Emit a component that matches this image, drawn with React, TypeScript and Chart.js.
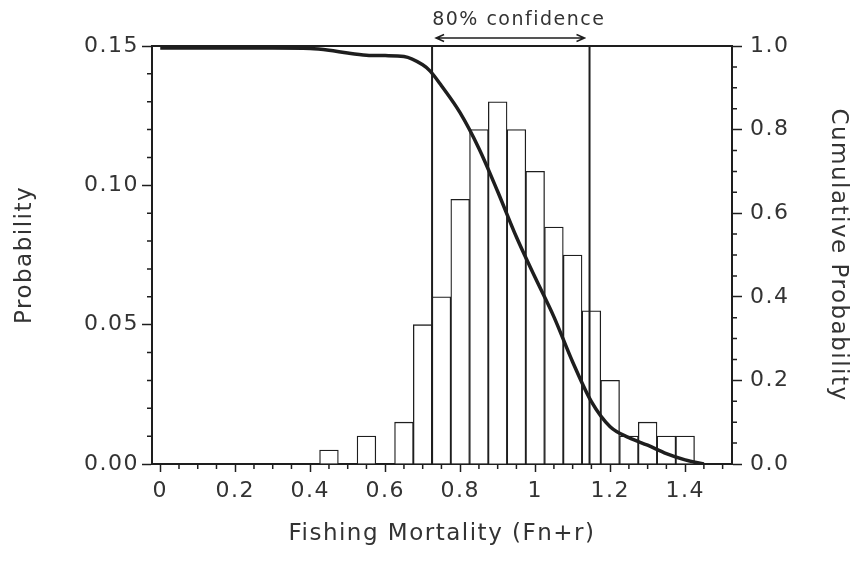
import React, { useEffect, useRef } from 'react';
import { Chart, registerables } from 'chart.js';

Chart.register(...registerables);

// ---- data ----
const binCenters = [0.45, 0.55, 0.65, 0.70, 0.75, 0.80, 0.85, 0.90, 0.95, 1.00, 1.05, 1.10, 1.15, 1.20, 1.25, 1.30, 1.35, 1.40];
const binProbabilities = [0.005, 0.010, 0.015, 0.050, 0.060, 0.095, 0.120, 0.130, 0.120, 0.105, 0.085, 0.075, 0.055, 0.030, 0.010, 0.015, 0.010, 0.010];

const cumulativeX = [0, 0.1, 0.2, 0.3, 0.4, 0.45, 0.5, 0.55, 0.6, 0.65, 0.7, 0.72, 0.75, 0.8, 0.85, 0.9, 0.95, 1.0, 1.05, 1.1, 1.15, 1.2, 1.25, 1.3, 1.35, 1.4, 1.45];
const cumulativeP = [0.995, 0.995, 0.995, 0.995, 0.994, 0.99, 0.983, 0.978, 0.977, 0.975, 0.955, 0.94, 0.905, 0.84, 0.755, 0.652, 0.543, 0.446, 0.352, 0.244, 0.149, 0.089, 0.063, 0.045, 0.025, 0.01, 0.0];

const confidenceBounds = [0.725, 1.145];
const confidenceLabel = '80% confidence';

const xTickValues = [0, 0.2, 0.4, 0.6, 0.8, 1.0, 1.2, 1.4];
const xTickLabels = ['0', '0.2', '0.4', '0.6', '0.8', '1', '1.2', '1.4'];
const xMinorStep = 0.05;
const yTickValues = [0, 0.05, 0.10, 0.15];
const yTickLabels = ['0.00', '0.05', '0.10', '0.15'];
const yMinorStep = 0.01;
const y2TickValues = [0, 0.2, 0.4, 0.6, 0.8, 1.0];
const y2TickLabels = ['0.0', '0.2', '0.4', '0.6', '0.8', '1.0'];
const y2MinorStep = 0.05;

const xTitle = 'Fishing Mortality (Fn+r)';
const yTitle = 'Probability';
const y2Title = 'Cumulative Probability';

// ---- style ----
const FONT = "'DejaVu Sans', Verdana, sans-serif";
const TEXT = '#333333';
const INK = '#1e1e1e';

const decorPlugin = {
  id: 'decor',
  beforeDraw(chart: any) {
    try { chart.ctx.letterSpacing = '1.5px'; } catch (e) { /* ignore */ }
  },
  afterDraw(chart: any) {
    const { ctx, chartArea: a, scales } = chart;
    const xs = scales.x, ys = scales.y, y2s = scales.y2;
    ctx.save();
    ctx.strokeStyle = INK;
    ctx.lineWidth = 2;
    // top frame line
    ctx.beginPath();
    ctx.moveTo(a.left - 1, a.top);
    ctx.lineTo(a.right + 1, a.top);
    ctx.stroke();

    // minor ticks
    ctx.lineWidth = 1.5;
    const minor = 5;
    const isMajor = (v: number, list: number[]) => list.some((t) => Math.abs(t - v) < 1e-9);
    ctx.beginPath();
    for (let i = 0; i * xMinorStep <= xs.max + 1e-9; i++) {
      const v = +(i * xMinorStep).toFixed(6);
      if (isMajor(v, xTickValues)) continue;
      const px = xs.getPixelForValue(v);
      ctx.moveTo(px, a.bottom);
      ctx.lineTo(px, a.bottom + minor);
    }
    for (let i = 0; i * yMinorStep <= ys.max + 1e-9; i++) {
      const v = +(i * yMinorStep).toFixed(6);
      if (isMajor(v, yTickValues)) continue;
      const py = ys.getPixelForValue(v);
      ctx.moveTo(a.left, py);
      ctx.lineTo(a.left - minor, py);
    }
    for (let i = 0; i * y2MinorStep <= y2s.max + 1e-9; i++) {
      const v = +(i * y2MinorStep).toFixed(6);
      if (isMajor(v, y2TickValues)) continue;
      const py = y2s.getPixelForValue(v);
      ctx.moveTo(a.right, py);
      ctx.lineTo(a.right + minor, py);
    }
    ctx.stroke();

    // confidence arrow
    const x1 = xs.getPixelForValue(confidenceBounds[0]) + 4;
    const x2 = xs.getPixelForValue(confidenceBounds[1]) - 5;
    const ay = a.top - 8;
    ctx.lineWidth = 1.5;
    ctx.beginPath();
    ctx.moveTo(x1, ay);
    ctx.lineTo(x2, ay);
    ctx.moveTo(x1 + 8, ay - 3.5);
    ctx.lineTo(x1, ay);
    ctx.lineTo(x1 + 8, ay + 3.5);
    ctx.moveTo(x2 - 8, ay - 3.5);
    ctx.lineTo(x2, ay);
    ctx.lineTo(x2 - 8, ay + 3.5);
    ctx.stroke();

    ctx.fillStyle = TEXT;
    ctx.font = `19px ${FONT}`;
    ctx.textAlign = 'center';
    ctx.textBaseline = 'middle';
    const mid = xs.getPixelForValue((confidenceBounds[0] + confidenceBounds[1]) / 2);
    ctx.fillText(confidenceLabel, mid + 8, a.top - 26);
    ctx.restore();
  },
};

export default function App() {
  const canvasRef = useRef<HTMLCanvasElement | null>(null);

  useEffect(() => {
    document.body.style.margin = '0';
    const canvas = canvasRef.current;
    if (!canvas) return;

    const tickFont = { family: FONT, size: 22 };
    const titleFont = { family: FONT, size: 23 };

    const chart = new Chart(canvas, {
      type: 'line',
      data: {
        datasets: [
          {
            type: 'line',
            label: 'Cumulative',
            data: cumulativeX.map((x, i) => ({ x, y: cumulativeP[i] })),
            yAxisID: 'y2',
            borderColor: INK,
            borderWidth: 3.5,
            pointRadius: 0,
            cubicInterpolationMode: 'monotone',
            fill: false,
            order: 0,
          },
          ...confidenceBounds.map((b) => ({
            type: 'line' as const,
            label: 'bound',
            data: [{ x: b, y: 0 }, { x: b, y: 1 }],
            yAxisID: 'y2',
            borderColor: INK,
            borderWidth: 2,
            pointRadius: 0,
            fill: false,
            order: 1,
          })),
          {
            type: 'bar',
            label: 'Probability',
            data: binCenters.map((x, i) => ({ x, y: binProbabilities[i] })),
            yAxisID: 'y',
            backgroundColor: '#ffffff',
            borderColor: INK,
            borderWidth: 1.3,
            barPercentage: 1,
            categoryPercentage: 1,
            order: 2,
          },
        ] as any,
      },
      options: {
        responsive: false,
        animation: false,
        events: [],
        layout: { padding: { top: 46, left: 0, right: 0, bottom: 0 } },
        plugins: { legend: { display: false }, tooltip: { enabled: false } },
        scales: {
          x: {
            type: 'linear',
            min: -0.022,
            max: 1.525,
            offset: false,
            afterFit: (s: any) => { s.height = 100; },
            afterBuildTicks: (s: any) => { s.ticks = xTickValues.map((value) => ({ value })); },
            ticks: {
              callback: (_v: any, i: number) => xTickLabels[i],
              font: tickFont,
              color: TEXT,
              padding: 6,
              autoSkip: false,
              maxRotation: 0,
              minRotation: 0,
            },
            grid: { display: true, drawOnChartArea: false, offset: false, tickLength: 8, tickColor: INK, tickWidth: 1.5 },
            border: { display: true, color: INK, width: 2 },
            title: { display: true, text: xTitle, font: titleFont, color: TEXT, padding: { top: 0, bottom: 16 } },
          },
          y: {
            type: 'linear',
            position: 'left',
            min: 0,
            max: 0.15,
            afterFit: (s: any) => { s.width = 152; },
            afterBuildTicks: (s: any) => { s.ticks = yTickValues.map((value) => ({ value })); },
            ticks: {
              callback: (_v: any, i: number) => yTickLabels[i],
              font: tickFont,
              color: TEXT,
              padding: 3,
              autoSkip: false,
            },
            grid: { display: true, drawOnChartArea: false, tickLength: 10, tickColor: INK, tickWidth: 1.5 },
            border: { display: true, color: INK, width: 2 },
            title: { display: true, text: yTitle, font: titleFont, color: TEXT, padding: { top: 11, bottom: 0 } },
          },
          y2: {
            type: 'linear',
            position: 'right',
            min: 0,
            max: 1,
            afterFit: (s: any) => { s.width = 127; },
            afterBuildTicks: (s: any) => { s.ticks = y2TickValues.map((value) => ({ value })); },
            ticks: {
              callback: (_v: any, i: number) => y2TickLabels[i],
              font: tickFont,
              color: TEXT,
              padding: 8,
              autoSkip: false,
            },
            grid: { display: true, drawOnChartArea: false, tickLength: 10, tickColor: INK, tickWidth: 1.5 },
            border: { display: true, color: INK, width: 2 },
            title: { display: true, text: y2Title, font: titleFont, color: TEXT, padding: { top: 7, bottom: 0 } },
          },
        },
      } as any,
      plugins: [decorPlugin],
    });

    return () => chart.destroy();
  }, []);

  return (
    <div style={{ position: 'fixed', left: 0, top: 0, width: 859, height: 564, background: '#ffffff' }}>
      <canvas ref={canvasRef} width={859} height={564} style={{ display: 'block' }} />
    </div>
  );
}
